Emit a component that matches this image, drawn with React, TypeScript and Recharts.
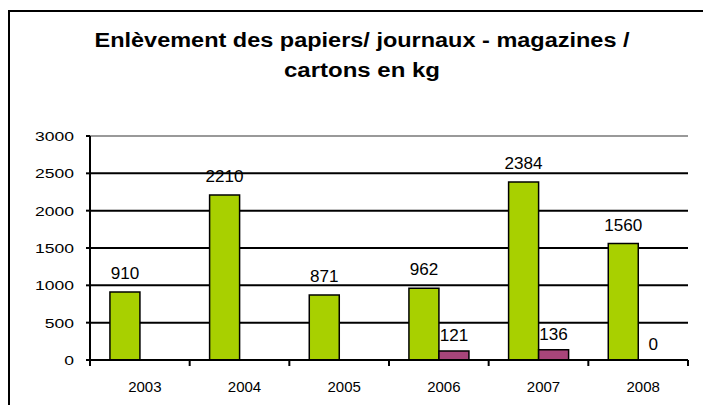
import React from 'react';
import { BarChart, Bar, XAxis, YAxis, CartesianGrid, ReferenceLine, LabelList } from 'recharts';

const years = ['2003', '2004', '2005', '2006', '2007', '2008'];
const papiers = [910, 2210, 871, 962, 2384, 1560];
const cartons: (number | null)[] = [null, null, null, 121, 136, 0];
const yTicks = [0, 500, 1000, 1500, 2000, 2500, 3000];
const titleLines = ['Enlèvement des papiers/ journaux - magazines /', 'cartons en kg'];

const data = years.map((y, i) => ({ year: y, papiers: papiers[i], cartons: cartons[i] }));

const W = 703;
const H = 405;
const M = { top: 136, right: 15, left: 0, bottom: 15 };
const YW = 90;
const plotW = W - M.left - M.right - YW;
const band = plotW / years.length;
const FONT = 'Arial, "Liberation Sans", Helvetica, sans-serif';

const XTick = (props: any) => {
  const { x, y, payload, index } = props;
  const axisY = y - 20;
  const left = x - band / 2;
  const right = x + band / 2;
  return (
    <g>
      <line x1={left} y1={axisY} x2={left} y2={axisY + 6} stroke="#000" strokeWidth={2} />
      {index === years.length - 1 && (
        <line x1={right} y1={axisY} x2={right} y2={axisY + 6} stroke="#000" strokeWidth={2} />
      )}
      <text x={x + 5} y={axisY + 32} textAnchor="middle" fontFamily={FONT} fontSize={15} fill="#000">
        {payload.value}
      </text>
    </g>
  );
};

const YTick = (props: any) => {
  const { x, y, payload } = props;
  return (
    <text
      transform={`translate(${x},${y + 5}) scale(1.3,1)`}
      x={0}
      y={0}
      textAnchor="end"
      fontFamily={FONT}
      fontSize={13.5}
      fill="#000"
    >
      {payload.value}
    </text>
  );
};

const Lbl = ({ cx, base, value }: { cx: number; base: number; value: number }) => (
  <text
    transform={`translate(${cx},${base}) scale(1.07,1)`}
    x={0}
    y={0}
    textAnchor="middle"
    fontFamily={FONT}
    fontSize={16}
    fill="#000"
  >
    {value}
  </text>
);

const GreenLabel = (props: any) => {
  const { x, y, width, height, value, index } = props;
  if (value === null || value === undefined) return null;
  const c = cartons[index];
  const bottom = y + height;
  let purple = null;
  if (c !== null && c !== undefined && value) {
    const topP = bottom - (height * c) / value;
    purple = <Lbl cx={x + width * 1.5} base={topP - 10} value={c} />;
  }
  return (
    <g>
      <Lbl cx={x + width / 2} base={y - 13} value={value} />
      {purple}
    </g>
  );
};

export default function App() {
  return (
    <div style={{ position: 'absolute', left: 0, top: 0, width: W, height: H, background: '#fff', overflow: 'hidden' }}>
      <div
        style={{
          position: 'absolute',
          left: 8,
          top: 10,
          width: 900,
          height: 600,
          borderLeft: '2px solid #000',
          borderTop: '2px solid #000',
        }}
      />
      <svg width={W} height={100} style={{ position: 'absolute', left: 0, top: 0 }}>
        <text
          x={362}
          y={47}
          textAnchor="middle"
          fontFamily={FONT}
          fontWeight="bold"
          fontSize={20}
          textLength={535}
          lengthAdjust="spacingAndGlyphs"
          fill="#000"
        >
          {titleLines[0]}
        </text>
        <text
          x={362}
          y={77}
          textAnchor="middle"
          fontFamily={FONT}
          fontWeight="bold"
          fontSize={20}
          textLength={156}
          lengthAdjust="spacingAndGlyphs"
          fill="#000"
        >
          {titleLines[1]}
        </text>
      </svg>
      <div style={{ position: 'absolute', left: 0, top: 0 }}>
        <BarChart width={W} height={H} data={data} margin={M} barCategoryGap="20%" barGap={0}>
          <CartesianGrid vertical={false} horizontalValues={[500, 1000, 1500, 2000, 2500]} stroke="#000" strokeWidth={2} />
          <ReferenceLine y={3000} stroke="#999" strokeWidth={2} />
          <YAxis
            yAxisId="r"
            orientation="right"
            width={0}
            domain={[0, 3000]}
            tick={false}
            tickLine={false}
            axisLine={{ stroke: '#999', strokeWidth: 3 }}
          />
          <XAxis
            dataKey="year"
            tickLine={false}
            tickSize={6}
            tickMargin={14}
            height={30}
            axisLine={{ stroke: '#000', strokeWidth: 2 }}
            tick={<XTick />}
            interval={0}
          />
          <YAxis
            width={YW}
            domain={[0, 3000]}
            ticks={yTicks}
            tickSize={4}
            tickMargin={12}
            tickLine={{ stroke: '#000', strokeWidth: 2 }}
            axisLine={{ stroke: '#000', strokeWidth: 2 }}
            tick={<YTick />}
            interval={0}
          />
          <Bar dataKey="papiers" fill="#A8D000" stroke="#000" strokeWidth={1.5} isAnimationActive={false}>
            <LabelList dataKey="papiers" content={<GreenLabel />} />
          </Bar>
          <Bar dataKey="cartons" fill="#A8457A" stroke="#000" strokeWidth={1.5} isAnimationActive={false} />
        </BarChart>
      </div>
    </div>
  );
}
